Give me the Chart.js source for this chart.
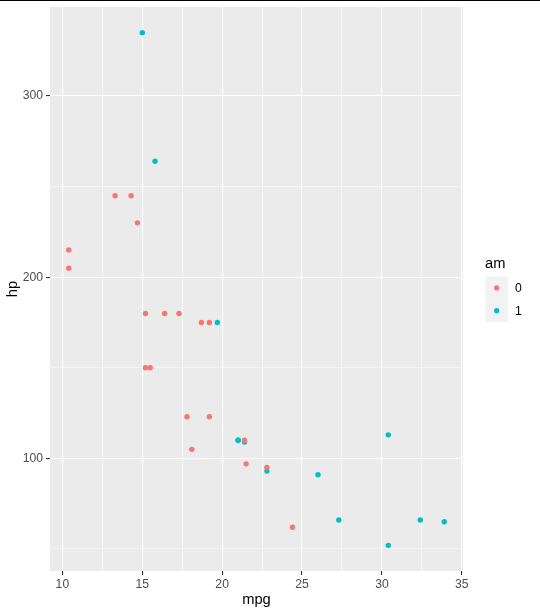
<!DOCTYPE html>
<html>
<head>
<meta charset="utf-8">
<script src="https://cdn.jsdelivr.net/npm/chart.js@4/dist/chart.umd.min.js"></script>
<style>
html,body{margin:0;padding:0;background:#fff;}
#wrap{position:relative;width:540px;height:615px;}
#topline{position:absolute;left:0;top:0;width:540px;height:1px;background:#000;}
canvas{position:absolute;left:0;top:0;}
</style>
</head>
<body>
<div id="wrap"><canvas id="c" width="540" height="615"></canvas><div id="topline"></div></div>
<script>
// Data (mtcars: mpg vs hp, by transmission am)
const mpgAm0 = [21.4, 18.7, 18.1, 14.3, 24.4, 22.8, 19.2, 17.8, 16.4, 17.3, 15.2, 10.4, 10.4, 14.7, 21.5, 15.5, 15.2, 13.3, 19.2];
const hpAm0  = [110, 175, 105, 245, 62, 95, 123, 123, 180, 180, 180, 205, 215, 230, 97, 150, 150, 245, 175];
const mpgAm1 = [21.0, 21.0, 22.8, 32.4, 30.4, 33.9, 27.3, 26.0, 30.4, 15.8, 19.7, 15.0, 21.4];
const hpAm1  = [110, 110, 93, 66, 52, 65, 66, 91, 113, 264, 175, 335, 109];
const seriesNames = ['0', '1'];
const xMajorTicks = [10, 15, 20, 25, 30, 35];
const xMinorTicks = [12.5, 17.5, 22.5, 27.5, 32.5];
const yMajorTicks = [100, 200, 300];
const yMinorTicks = [50, 150, 250];
const xTitle = 'mpg', yTitle = 'hp', legendTitle = 'am';

const colors = ['#F8766D', '#00BFC4'];
const toPts = (xs, ys) => xs.map((x, i) => ({x: x, y: ys[i]}));

function range(vals){
  const lo = Math.min(...vals), hi = Math.max(...vals), e = (hi - lo) * 0.05;
  return [lo - e, hi + e];
}
const xr = range(mpgAm0.concat(mpgAm1));
const yr = range(hpAm0.concat(hpAm1));

const FONT = "'Liberation Sans', Arial, sans-serif";
const TICK_SIZE = 12.2;

function gridOpts(majors){
  const isMajor = c => c.tick && majors.includes(c.tick.value);
  return {
    color: '#FFFFFF',
    lineWidth: c => isMajor(c) ? 1.1 : 0.55,
    tickColor: c => isMajor(c) ? '#333333' : 'rgba(0,0,0,0)',
    tickWidth: 1.1,
    tickLength: 4,
    drawTicks: true
  };
}

const panelBg = {
  id: 'panelBg',
  beforeDraw(chart){
    const a = chart.chartArea, ctx = chart.ctx;
    ctx.save();
    ctx.fillStyle = '#EBEBEB';
    ctx.fillRect(a.left, a.top, a.right - a.left, a.bottom - a.top);
    ctx.restore();
  },
  afterDraw(chart){
    const ctx = chart.ctx;
    ctx.save();
    ctx.fillStyle = '#000';
    ctx.font = '14.7px ' + FONT;
    ctx.textBaseline = 'middle';
    ctx.textAlign = 'left';
    ctx.fillText(legendTitle, 485, 264);
    const keyX = 485.5, keyY = 276.5, keyS = 22.8;
    seriesNames.forEach((n, i) => {
      ctx.fillStyle = '#F2F2F2';
      ctx.fillRect(keyX, keyY + i * keyS, 22.5, keyS);
      ctx.fillStyle = colors[i];
      ctx.beginPath();
      ctx.arc(keyX + 11.2, keyY + i * keyS + keyS / 2, 2.6, 0, Math.PI * 2);
      ctx.fill();
      ctx.fillStyle = '#000';
      ctx.font = TICK_SIZE + 'px ' + FONT;
      ctx.fillText(n, 515, keyY + i * keyS + keyS / 2 + 0.5);
    });
    ctx.restore();
  }
};

new Chart(document.getElementById('c'), {
  type: 'scatter',
  data: {
    datasets: [
      {label: seriesNames[0], data: toPts(mpgAm0, hpAm0), backgroundColor: colors[0], borderWidth: 0, pointRadius: 2.7, pointHoverRadius: 2.7},
      {label: seriesNames[1], data: toPts(mpgAm1, hpAm1), backgroundColor: colors[1], borderWidth: 0, pointRadius: 2.7, pointHoverRadius: 2.7}
    ]
  },
  options: {
    responsive: false,
    animation: false,
    events: [],
    layout: {padding: {top: 7, right: 77, bottom: 0, left: 0}},
    plugins: {legend: {display: false}, tooltip: {enabled: false}},
    scales: {
      x: {
        type: 'linear', min: xr[0], max: xr[1],
        afterBuildTicks: s => { s.ticks = xMajorTicks.concat(xMinorTicks).sort((a,b)=>a-b).map(v => ({value: v})); },
        afterFit: s => { s.height = 44; s.paddingLeft = 0; s.paddingRight = 0; },
        ticks: {
          autoSkip: false, maxRotation: 0, padding: 2,
          color: '#4D4D4D', font: {family: FONT, size: TICK_SIZE},
          callback: v => xMajorTicks.includes(v) ? String(v) : ''
        },
        grid: gridOpts(xMajorTicks),
        border: {display: false},
        title: {display: true, text: xTitle, color: '#000', font: {family: FONT, size: 14.7}, padding: {top: 0, bottom: 6}}
      },
      y: {
        type: 'linear', min: yr[0], max: yr[1],
        afterBuildTicks: s => { s.ticks = yMajorTicks.concat(yMinorTicks).sort((a,b)=>a-b).map(v => ({value: v})); },
        afterFit: s => { s.width = 50; s.paddingTop = 0; s.paddingBottom = 0; },
        ticks: {
          autoSkip: false, padding: 3,
          color: '#4D4D4D', font: {family: FONT, size: TICK_SIZE},
          callback: v => yMajorTicks.includes(v) ? String(v) : ''
        },
        grid: gridOpts(yMajorTicks),
        border: {display: false},
        title: {display: true, text: yTitle, color: '#000', font: {family: FONT, size: 14.7}, padding: {top: 4, bottom: 0}}
      }
    }
  },
  plugins: [panelBg]
});
</script>
</body>
</html>
